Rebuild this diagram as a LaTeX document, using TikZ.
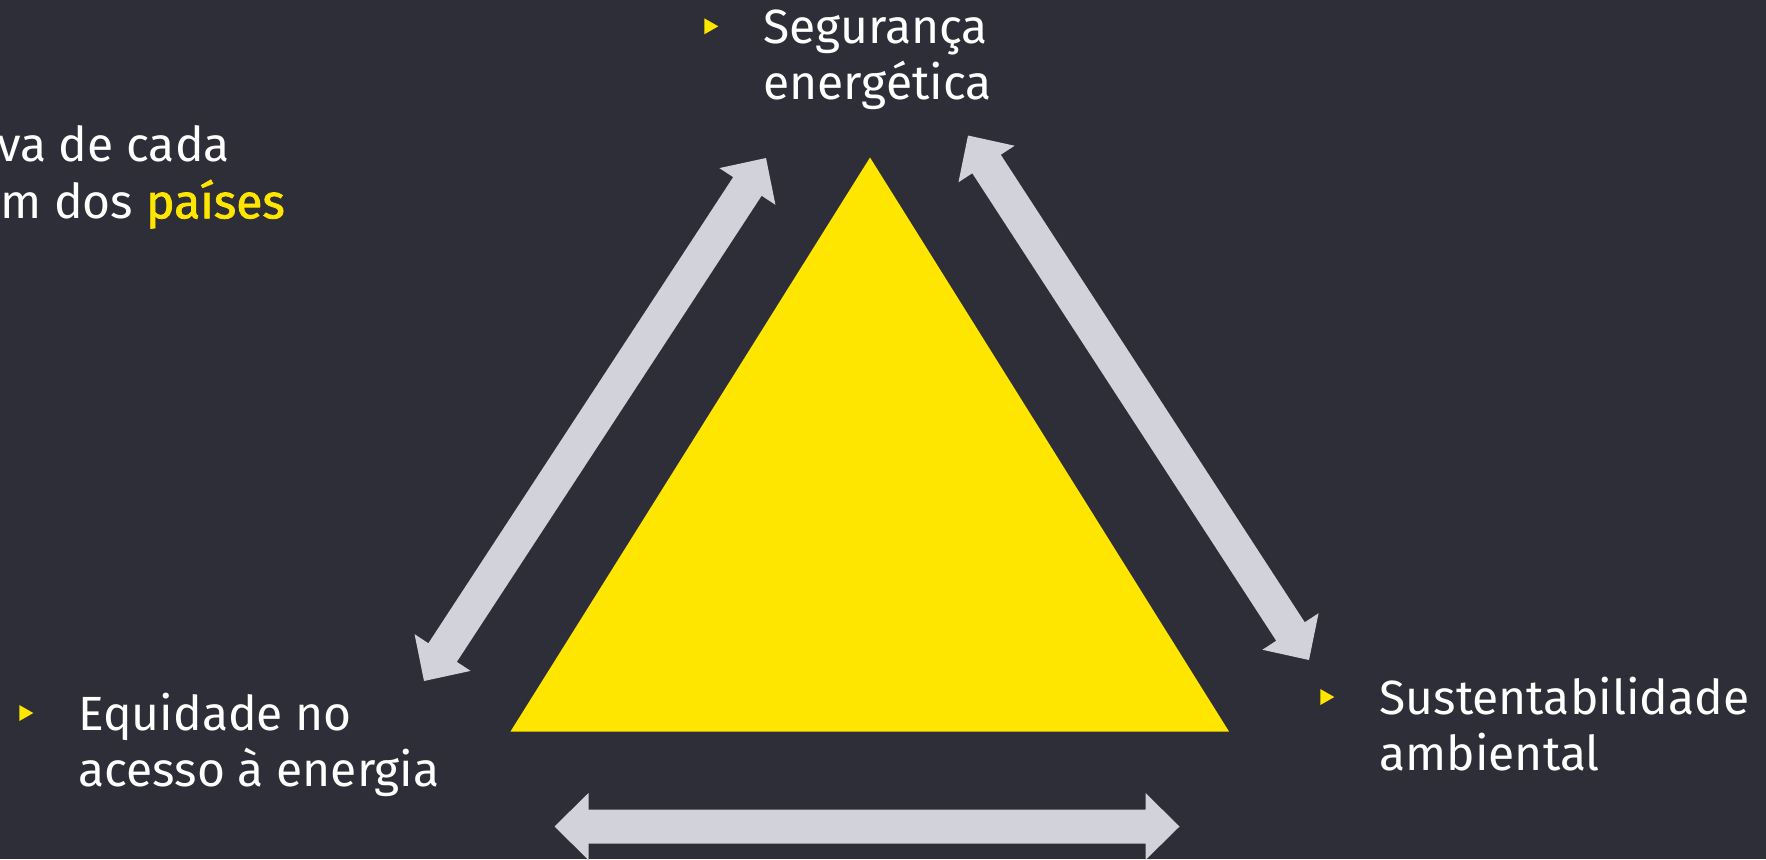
\documentclass[tikz,border=0pt]{standalone}
\usepackage{fontspec}
\setmainfont{Fira Sans}
\newfontfamily\heavier[FakeBold=1.6]{Fira Sans}
\usetikzlibrary{calc}
\definecolor{bg}{HTML}{2E2E38}
\definecolor{eyyellow}{HTML}{FFE600}
\definecolor{arrowgrey}{HTML}{D2D2DA}
\tikzset{
  labeltext/.style={text=white, font=\fontsize{48}{56.6}\selectfont, inner sep=0pt, align=left},
  bulletmark/.style={fill=eyyellow},
  blockarrow/.style={fill=arrowgrey},
  pillar/.style={fill=eyyellow}
}
% double-headed block arrow between two named coordinates
\newcommand\dblblockarrow[2]{%
  \fill[blockarrow] (#1)
    -- ($(#1)!34pt!(#2)!33.5pt!90:(#2)$)
    -- ($(#1)!34pt!(#2)!17pt!90:(#2)$)
    -- ($(#2)!34pt!(#1)!17pt!-90:(#1)$)
    -- ($(#2)!34pt!(#1)!33.5pt!-90:(#1)$)
    -- (#2)
    -- ($(#2)!34pt!(#1)!33.5pt!90:(#1)$)
    -- ($(#2)!34pt!(#1)!17pt!90:(#1)$)
    -- ($(#1)!34pt!(#2)!17pt!-90:(#2)$)
    -- ($(#1)!34pt!(#2)!33.5pt!-90:(#2)$)
    -- cycle;}
% bullet beside the first line of a two-line label (base = last line)
\newcommand\bulletfor[1]{%
  \fill[bulletmark] ($(#1.base west)+(-59,-81.6)$) -- ($(#1.base west)+(-45,-73.6)$) -- ($(#1.base west)+(-59,-65.6)$) -- cycle;}
\begin{document}
\begin{tikzpicture}[x=1pt,y=-1pt]
  \fill[bg] (0,0) rectangle (1766,859);
  \useasboundingbox (0,0) rectangle (1766,859);

  % central triangle
  \coordinate (apex) at (870,157.5);
  \coordinate (bl) at (510.5,731.5);
  \coordinate (br) at (1229,731.5);
  \fill[pillar] (apex) -- (bl) -- (br) -- cycle;

  % arrow end points
  \coordinate (la) at (424,681);
  \coordinate (lb) at (766,158);
  \coordinate (ra) at (968,135.5);
  \coordinate (rb) at (1309,660);
  \coordinate (ba) at (554.5,826.5);
  \coordinate (bb) at (1179.5,826.5);
  \dblblockarrow{la}{lb}
  \dblblockarrow{ra}{rb}
  \dblblockarrow{ba}{bb}

  % labels (anchored at the baseline of their last line)
  \node[labeltext, anchor=base west] (seg) at (763.3,99.9) {Segurança\\energética};
  \node[labeltext, anchor=base west] (equ) at (78.3,786.6) {Equidade no\\acesso à energia};
  \node[labeltext, anchor=base west] (sus) at (1379.3,770.6) {Sustentabilidade\\ambiental};
  \bulletfor{seg}
  \bulletfor{equ}
  \bulletfor{sus}

  % cropped heading at top left
  \node[labeltext, anchor=base east] (h1) at (230,161.7) {va de cada};
  \node[labeltext, anchor=base east] (h2) at (285,218.3) {um dos \textcolor{eyyellow}{\heavier países}};
\end{tikzpicture}
\end{document}
